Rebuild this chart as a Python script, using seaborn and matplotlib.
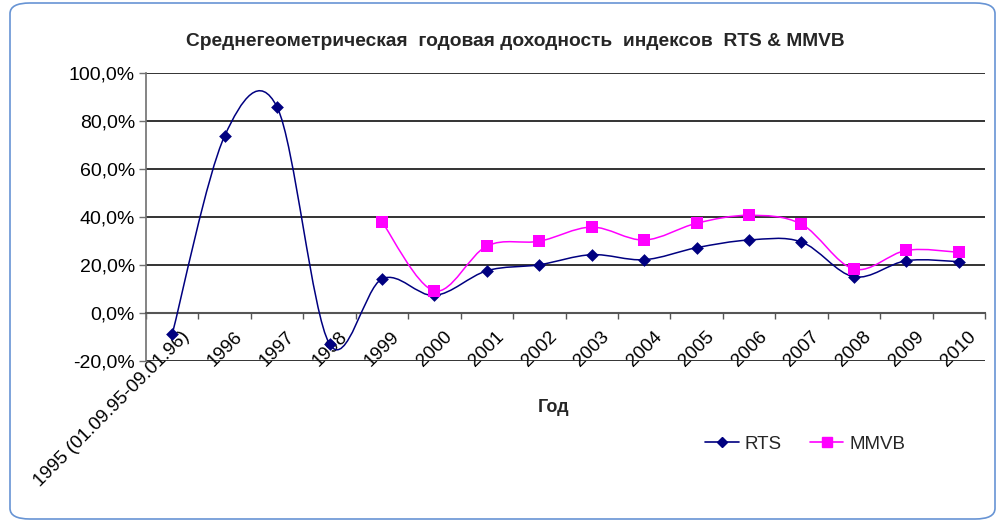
import numpy as np
import pandas as pd
import matplotlib
matplotlib.use("Agg")
import matplotlib.pyplot as plt
import matplotlib.transforms as mtransforms
import seaborn as sns
from matplotlib.path import Path
from matplotlib.patches import PathPatch, FancyBboxPatch
from matplotlib.lines import Line2D
from matplotlib.ticker import FuncFormatter, FixedLocator

categories = ["1995 (01.09.95-09.01.96)", "1996", "1997", "1998", "1999", "2000",
              "2001", "2002", "2003", "2004", "2005", "2006", "2007", "2008", "2009", "2010"]
rts = [-8.8, 73.8, 85.8, -12.9, 14.2, 7.3, 17.6, 20.1, 24.3, 22.2, 27.2, 30.4, 29.6, 15.1, 21.8, 21.4]
mmvb = [np.nan, np.nan, np.nan, np.nan, 38.0, 9.2, 27.9, 29.9, 35.8, 30.4, 37.4, 40.7, 37.0, 18.3, 26.1, 25.3]
title = "Среднегеометрическая  годовая доходность  индексов  RTS & MMVB"
xlabel = "Год"
yticks = [-20, 0, 20, 40, 60, 80, 100]

sns.set_theme(style="white")
plt.rcParams["font.family"] = ["Liberation Sans", "DejaVu Sans"]

df = pd.DataFrame({"cat": np.arange(len(categories)), "RTS": rts, "MMVB": mmvb})

fig = plt.figure(figsize=(9.97, 5.31), dpi=100)
W, H = 997, 531
ax = fig.add_axes([146 / W, 1 - 361 / H, (985 - 146) / W, (361 - 73) / H])

# rounded chart border
border = FancyBboxPatch((10 / W, 12 / H), (985) / W, (516) / H,
                        boxstyle="round,pad=0,rounding_size=0.02",
                        transform=fig.transFigure, fill=False,
                        edgecolor="#6794d4", linewidth=1.2, zorder=0)
fig.patches.append(border)


def smooth_path(x, y):
    pts = [(a, b) for a, b in zip(x, y) if not np.isnan(b)]
    verts = [pts[0]]
    codes = [Path.MOVETO]
    n = len(pts)
    for i in range(n - 1):
        p0 = np.array(pts[i - 1] if i > 0 else pts[i])
        p1 = np.array(pts[i])
        p2 = np.array(pts[i + 1])
        p3 = np.array(pts[i + 2] if i + 2 < n else pts[i + 1])
        c1 = p1 + (p2 - p0) / 6.0
        c2 = p2 - (p3 - p1) / 6.0
        verts += [tuple(c1), tuple(c2), tuple(p2)]
        codes += [Path.CURVE4] * 3
    return Path(verts, codes)


series = [("RTS", "#000080", "D", 6.5), ("MMVB", "#ff00ff", "s", 8.5)]
for name, col, mk, ms in series:
    ax.add_patch(PathPatch(smooth_path(df["cat"], df[name]), facecolor="none",
                           edgecolor=col, linewidth=1.1, zorder=3))
    sns.scatterplot(data=df, x="cat", y=name, marker=mk, color=col, s=ms ** 2,
                    edgecolor=col, linewidth=0, ax=ax, zorder=4, legend=False)

ax.set_xlim(-0.5, len(categories) - 0.5)
ax.set_ylim(-20, 100)
ax.set_yticks(yticks)
ax.yaxis.set_major_formatter(FuncFormatter(lambda v, p: f"{v:.1f}%".replace(".", ",")))
ax.grid(axis="y", color="#111111", linewidth=1.2)
ax.grid(axis="x", visible=False)
for s in ["top", "right"]:
    ax.spines[s].set_visible(False)
ax.spines["left"].set_color("#707070")
ax.spines["left"].set_linewidth(1.2)
ax.spines["bottom"].set_position(("data", 0))
ax.spines["bottom"].set_color("#555555")
ax.spines["bottom"].set_linewidth(1.5)

ax.set_xticks(np.arange(len(categories)))
ax.set_xticklabels(categories, rotation=45, ha="right", va="top", rotation_mode="anchor")
ax.xaxis.set_minor_locator(FixedLocator(np.arange(-0.5, len(categories), 1.0)))
ax.tick_params(axis="x", which="major", length=0, labelsize=13.5, pad=11, labelcolor="black")
ax.tick_params(axis="x", which="minor", length=4, width=1, color="#555555", direction="out", bottom=True)
ax.tick_params(axis="y", which="major", length=5, width=1, color="#707070", left=True,
               labelsize=14, pad=3, labelcolor="black")
offset = mtransforms.ScaledTranslation(9 / 100, 0, fig.dpi_scale_trans)
for lbl in ax.get_xticklabels():
    lbl.set_transform(lbl.get_transform() + offset)
ax.set_xlabel("")
ax.set_ylabel("")

fig.text(515 / W, 1 - 42 / H, title, ha="center", va="center", fontsize=13.8, fontweight="bold")
fig.text(554 / W, 1 - 407 / H, xlabel, ha="center", va="center", fontsize=13, fontweight="bold")

handles = [Line2D([], [], color="#000080", marker="D", markersize=5.5, linewidth=1.2),
           Line2D([], [], color="#ff00ff", marker="s", markersize=7.5, linewidth=1.2)]
fig.legend(handles, ["RTS", "MMVB"], loc="center", bbox_to_anchor=(805 / W, 1 - 444 / H),
           ncol=2, frameon=False, fontsize=13.5, handlelength=1.8, handletextpad=0.3,
           columnspacing=1.5, borderpad=0, borderaxespad=0)

fig.savefig("out.png", dpi=100)
